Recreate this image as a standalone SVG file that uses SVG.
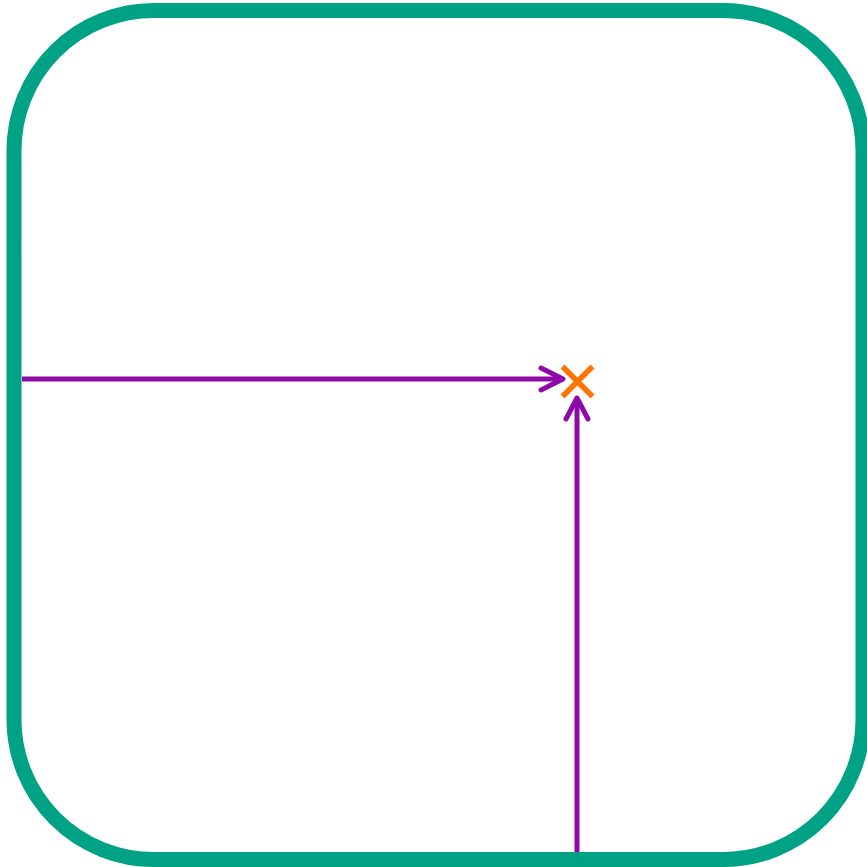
<svg xmlns="http://www.w3.org/2000/svg" width="867" height="867" viewBox="0 0 867 867">
<style>
.frame{fill:none;stroke:#00a285;stroke-width:15}
.conn{fill:none;stroke:#8e0aa8;stroke-width:5;stroke-linecap:butt}
.head{fill:none;stroke:#8e0aa8;stroke-width:5;stroke-linecap:round;stroke-linejoin:round}
.cross{stroke:#ff7300;stroke-width:5.5;stroke-linecap:butt}
</style>
<rect width="867" height="867" fill="#ffffff"/>
<g id="frame">
<rect class="frame" x="14" y="10.5" width="849" height="849" rx="140" ry="140"/>
</g>
<g id="target">
<line class="cross" x1="562.5" y1="366.5" x2="592.5" y2="396.5"/>
<line class="cross" x1="592.5" y1="366.5" x2="562.5" y2="396.5"/>
</g>
<g id="connectors">
<line class="conn" x1="22" y1="379" x2="562" y2="379"/>
<polyline class="head" points="541,368 563,379 541,390"/>
<line class="conn" x1="577" y1="852" x2="577" y2="400"/>
<polyline class="head" points="566,419 577,398 588,419"/>
</g>
</svg>
